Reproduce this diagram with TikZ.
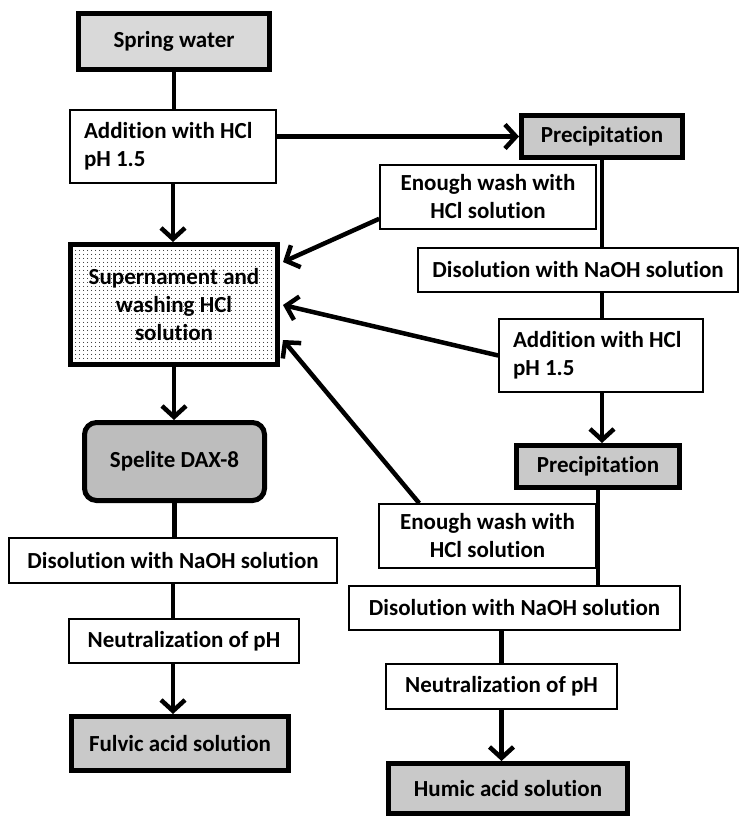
\documentclass[tikz,border=0pt]{standalone}
\usepackage{fontspec}
\setmainfont{Carlito}[Ligatures={NoCommon}]
\usetikzlibrary{arrows.meta,calc,patterns.meta}
\begin{document}
\begin{tikzpicture}[x=1pt,y=-1pt,
  font=\bfseries\fontsize{23}{28}\selectfont,
  thinbox/.style={draw=black,line width=1.6pt,fill=white,inner sep=2pt,align=center},
  thickbox/.style={draw=black,line width=5pt,inner sep=2pt,align=center},
  leftbox/.style={draw=black,line width=1.6pt,fill=white,inner xsep=14pt,inner ysep=2pt,align=flush left},
  conn/.style={line width=4.5pt},
  arr/.style={line width=4.5pt,-{Straight Barb[length=11pt,width=24pt]}}
]
\useasboundingbox (0,0) rectangle (744,818);

% left column
\node[thickbox,fill=gray!30,minimum width=191,minimum height=56] (spring) at (174,41.5) {Spring water};
\node[leftbox,text width=178,minimum height=73] (add1) at (173,146.5) {Addition with HCl\\pH 1.5};
\node[thickbox,preaction={fill=white},pattern={Dots[distance=4pt,radius=0.6pt]},minimum width=207,minimum height=120] (super) at (174,304.5) {Supernament and\\washing HCl\\solution};
\node[thickbox,fill=gray!52,rounded corners=12pt,minimum width=180,minimum height=78] (spel) at (174.5,461.5) {Spelite DAX-8};
\node[thinbox,minimum width=328,minimum height=45] (dis3) at (173,560.5) {Disolution with NaOH solution};
\node[thinbox,minimum width=230,minimum height=44] (neut1) at (184,641) {Neutralization of pH};
\node[thickbox,fill=gray!42,minimum width=217,minimum height=54] (fulv) at (180,743.5) {Fulvic acid solution};

% right column
\node[thickbox,fill=gray!42,minimum width=161,minimum height=42] (prec1) at (602,136.5) {Precipitation};
\node[thinbox,minimum width=216,minimum height=64] (wash1) at (488,197) {Enough wash with\\HCl solution};
\node[thinbox,minimum width=320,minimum height=44] (dis1) at (578,270) {Disolution with NaOH solution};
\node[leftbox,text width=176,minimum height=73] (add2) at (601,355.5) {Addition with HCl\\pH 1.5};
\node[thickbox,fill=gray!42,minimum width=163,minimum height=42] (prec2) at (598,466.5) {Precipitation};
\node[thinbox,minimum width=217,minimum height=64] (wash2) at (487.5,536) {Enough wash with\\HCl solution};
\node[thinbox,minimum width=331,minimum height=44] (dis2) at (514.5,608) {Disolution with NaOH solution};
\node[thinbox,minimum width=231,minimum height=45] (neut2) at (501.5,686.5) {Neutralization of pH};
\node[thickbox,fill=gray!42,minimum width=239,minimum height=50] (hum) at (508,788.5) {Humic acid solution};

% connectors left
\draw[conn] (spring.south) -- (spring.south |- add1.north);
\draw[arr] (add1.south) -- (add1.south |- super.north);
\draw[arr] (super.south) -- (super.south |- spel.north);
\draw[conn] (spel.south) -- (spel.south |- dis3.north);
\draw[conn] (dis3.south) -- (dis3.south |- neut1.north);
\draw[arr] (dis3.south |- neut1.south) -- (dis3.south |- fulv.north);

% connectors right
\draw[arr] (add1.east |- prec1.west) -- (prec1.west);
\draw[conn] (prec1.south) -- (prec1.south |- dis1.north);
\draw[conn] (prec1.south |- dis1.south) -- (prec1.south |- add2.north);
\draw[arr] (prec1.south |- add2.south) -- (prec1.south |- prec2.north);
\draw[conn] (prec2.south) -- (prec2.south |- dis2.north);
\draw[conn] (neut2.north |- dis2.south) -- (neut2.north);
\draw[arr] (neut2.south) -- (neut2.south |- hum.north);

% return arrows to supernament
\coordinate (w1s) at ($(wash1.south west)+(0,-11)$);
\coordinate (t1) at ($(super.north east)+(3,20)$);
\coordinate (t2) at ($(super.north east)+(3,63)$);
\coordinate (w2s) at ($(wash2.north west)+(41,0)$);
\coordinate (t3) at ($(super.north east)+(3,98)$);
\draw[arr] (w1s) -- (t1);
\draw[arr] (add2.west) -- (t2);
\draw[arr] (w2s) -- (t3);
\end{tikzpicture}
\end{document}
